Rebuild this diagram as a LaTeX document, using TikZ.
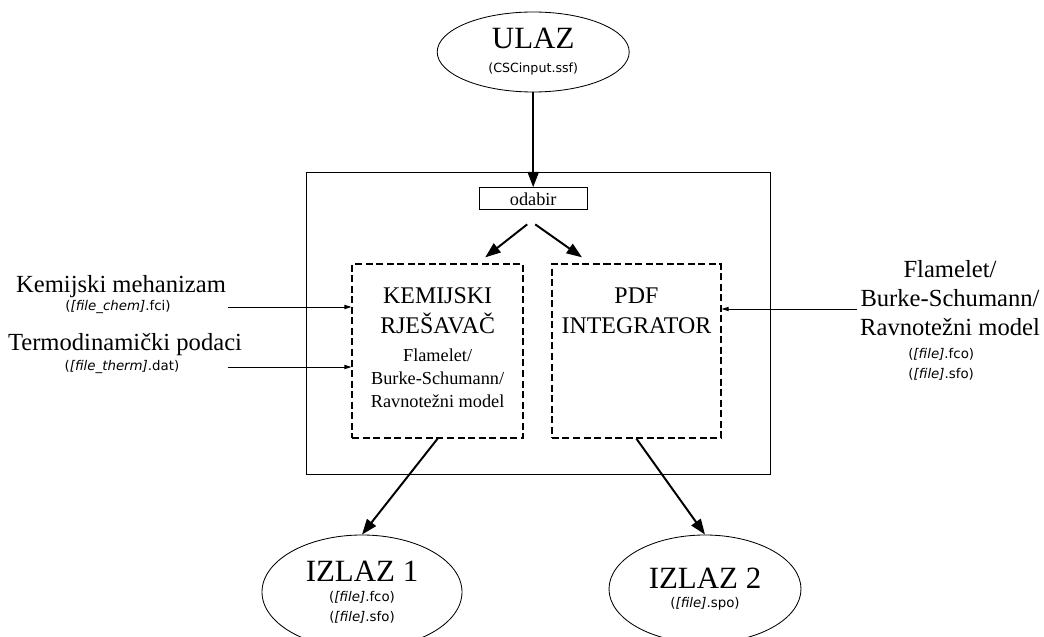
\documentclass[tikz,border=0pt]{standalone}
\usepackage{fontspec}
\setmainfont{Liberation Serif}
\setsansfont{DejaVu Sans}
\usetikzlibrary{shapes.geometric, arrows.meta, positioning}

\newcommand{\fname}[2]{(\textit{[#1]}.#2)}
\newcommand{\topbox}[1]{\parbox[c][4.35cm][t]{4.2cm}{\centering\vspace*{0.6cm}#1\par}}

\begin{document}
\begin{tikzpicture}[
    ell/.style={ellipse, draw, line width=0.6pt, inner sep=0pt, align=center, font=\fontsize{9.5}{14}\sffamily},
    blk/.style={rectangle, draw, line width=0.9pt, dash pattern=on 5pt off 2.5pt, minimum width=4.275cm, minimum height=4.35cm, inner sep=0pt, font=\fontsize{17}{21}\selectfont},
    lbl/.style={font=\fontsize{17.5}{20.5}\selectfont, align=center, inner sep=1pt},
    sub/.style={font=\fontsize{9.5}{14}\sffamily, align=center, inner sep=1pt},
    arr/.style={-{Triangle[length=11pt,width=8pt]}, line width=1.4pt},
    inarr/.style={-{Triangle[length=5pt,width=3pt]}, line width=0.7pt},
]
\useasboundingbox (0,0) rectangle (26.1,15.9);

\node[ell, minimum width=4.8cm, minimum height=2.0cm] (ulaz) at (13.33,14.6)
  {{\rmfamily\fontsize{22}{24}\selectfont ULAZ}\\[3pt] {\fontsize{9}{12}\selectfont(CSCinput.ssf)}};

% sustav
\node[draw, line width=0.7pt, minimum width=11.6cm, minimum height=7.55cm] (sys) at (13.45,7.825) {};
\node[draw, line width=0.8pt, minimum width=2.7cm, minimum height=0.55cm, inner sep=0pt, font=\fontsize{13}{15}\selectfont] (odabir) at (13.33,10.93) {odabir};

\node[blk] (kem) at (10.94,7.125)
  {\topbox{KEMIJSKI\\RJEŠAVAČ\\[3.5pt]{\fontsize{13}{16.3}\selectfont Flamelet/\\Burke-Schumann/\\Ravnotežni model\par}}};
\node[blk, minimum width=4.225cm] (pdf) at (15.91,7.125) {\topbox{PDF\\INTEGRATOR}};

% ulazi
\node[lbl] (chem) at (3.025,8.725) {Kemijski mehanizam};
\node[sub] (chemf) at (2.95,8.225) {\fname{file\_chem}{fci}};
\node[lbl] (therm) at (3.125,7.275) {Termodinamički podaci};
\node[sub] (thermf) at (3.05,6.725) {\fname{file\_therm}{dat}};

\node[lbl] (flm) at (23.75,8.45) {Flamelet/\\Burke-Schumann/\\Ravnotežni model};
\node[sub] (flmf) at (23.53,6.8) {\fname{file}{fco}\\ \fname{file}{sfo}};
\coordinate (flmin) at (21.43,8.175);

% izlazi
\node[ell, minimum width=5cm, minimum height=2.85cm] (izl1) at (9.05,1.1)
  {{\rmfamily\fontsize{22}{24}\selectfont IZLAZ 1}\\ \fname{file}{fco}\\ \fname{file}{sfo}};
\node[ell, minimum width=4.8cm, minimum height=2.7cm] (izl2) at (17.625,1.175)
  {{\rmfamily\fontsize{22}{24}\selectfont IZLAZ 2}\\ \fname{file}{spo}};

% tok
\draw[arr] (ulaz) -- (odabir);
\draw[arr] ([xshift=-0.15cm, yshift=-0.35cm]odabir.south) -- ([xshift=1.19cm, yshift=0.15cm]kem.north);
\draw[arr] ([xshift=0.05cm, yshift=-0.35cm]odabir.south) -- ([xshift=-1.36cm, yshift=0.15cm]pdf.north);
\draw[arr] (kem.south) -- (izl1.north);
\draw[arr] (pdf.south) -- (izl2.north);

\draw[inarr] (chem.east |- chemf) -- (kem.west |- chemf);
\draw[inarr] (chem.east |- thermf) -- (kem.west |- thermf);
\draw[inarr] (flmin) -- (pdf.east |- flmin);

\end{tikzpicture}
\end{document}
